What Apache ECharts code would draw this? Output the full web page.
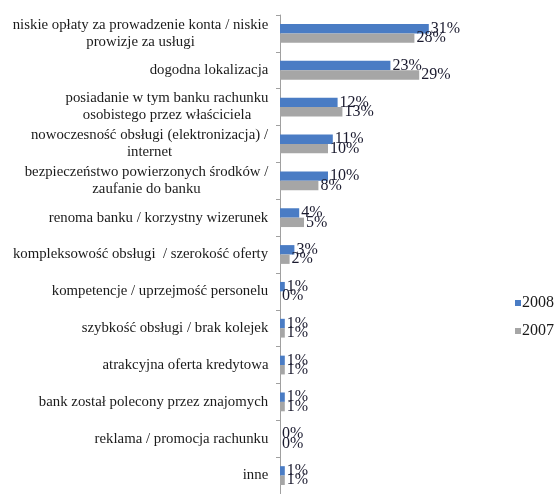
<!DOCTYPE html>
<html>
<head>
<meta charset="utf-8">
<script src="https://cdn.jsdelivr.net/npm/echarts@6/dist/echarts.min.js"></script>
<style>html,body{margin:0;padding:0;background:#fff}#c{width:557px;height:494px}</style>
</head>
<body>
<div id="c"></div>
<script>
var categories = [
  'niskie opłaty za prowadzenie konta / niskie\nprowizje za usługi',
  'dogodna lokalizacja',
  'posiadanie w tym banku rachunku\nosobistego przez właściciela',
  'nowoczesność obsługi (elektronizacja) /\ninternet',
  'bezpieczeństwo powierzonych środków /\nzaufanie do banku',
  'renoma banku / korzystny wizerunek',
  'kompleksowość obsługi  / szerokość oferty',
  'kompetencje / uprzejmość personelu',
  'szybkość obsługi / brak kolejek',
  'atrakcyjna oferta kredytowa',
  'bank został polecony przez znajomych',
  'reklama / promocja rachunku',
  'inne'
];
var values2008 = [31, 23, 12, 11, 10, 4, 3, 1, 1, 1, 1, 0, 1];
var values2007 = [28, 29, 13, 10, 8, 5, 2, 0, 1, 1, 1, 0, 1];
var seriesNames = ['2008', '2007'];

var FONT = '"Liberation Serif", "DejaVu Serif", serif';
var FS = 14.8;
var cv = document.createElement('canvas').getContext('2d');
cv.font = FS + 'px ' + FONT;
var rich = {};
categories.forEach(function (c, i) {
  var w = 0;
  c.split('\n').forEach(function (l) { w = Math.max(w, cv.measureText(l).width); });
  rich['r' + i] = { width: Math.ceil(w) + 1, align: 'center', fontFamily: FONT, fontSize: FS, color: '#1a1a1a', lineHeight: 17 };
});

var chart = echarts.init(document.getElementById('c'));
var labelCfg = {
  show: true, position: 'right', distance: 2,
  formatter: '{c}%', fontFamily: FONT, fontSize: 16, color: '#1a1a2e'
};
chart.setOption({
  animation: false,
  grid: { left: 280, top: 15, height: 486, width: 168, containLabel: false },
  legend: {
    orient: 'vertical', left: 510, top: 290,
    itemWidth: 6, itemHeight: 6, itemGap: 12, icon: 'rect',
    textStyle: { fontFamily: FONT, fontSize: 16, color: '#1a1a1a', padding: [0, 0, 0, -4] },
    data: seriesNames
  },
  xAxis: { type: 'value', min: 0, max: 35, show: false },
  yAxis: {
    type: 'category', inverse: true, data: categories,
    axisLine: { show: true, lineStyle: { color: '#a0a0a0', width: 1 } },
    axisTick: { show: true, length: 4, lineStyle: { color: '#a0a0a0' } },
    axisLabel: {
      margin: 11, align: 'right',
      formatter: function (v, i) {
        return v.split('\n').map(function (l) { return '{r' + i + '|' + l + '}'; }).join('\n');
      },
      rich: rich
    }
  },
  series: [
    { name: seriesNames[0], type: 'bar', data: values2008, barGap: '0%', barCategoryGap: '49%',
      itemStyle: { color: '#4a7cc4' }, label: labelCfg },
    { name: seriesNames[1], type: 'bar', data: values2007,
      itemStyle: { color: '#a6a6a6' }, label: labelCfg }
  ]
});
</script>
</body>
</html>
